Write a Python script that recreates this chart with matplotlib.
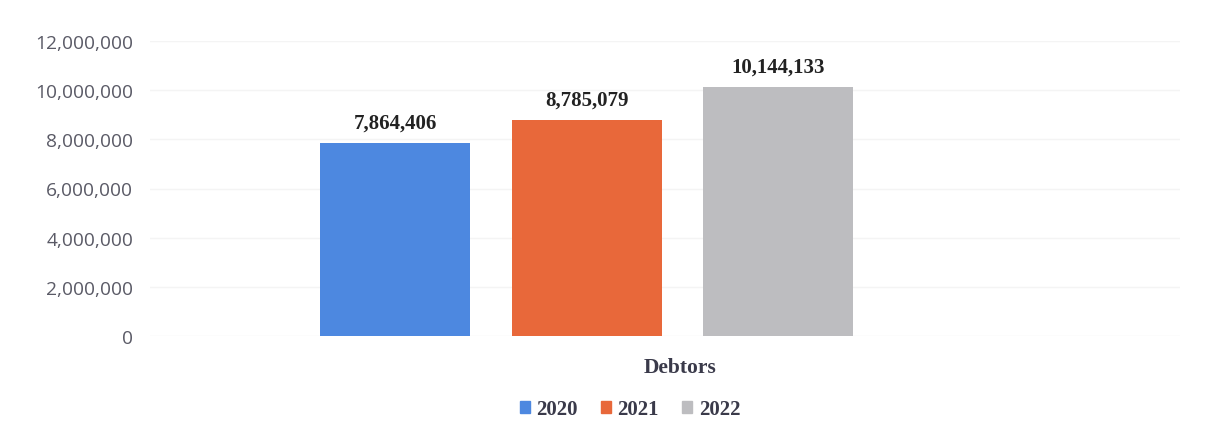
import matplotlib.pyplot as plt
from matplotlib.ticker import FuncFormatter
from matplotlib.patches import Patch

# data
years = ["2020", "2021", "2022"]
category = "Debtors"
values = [7864406, 8785079, 10144133]
colors = ["#4d88e0", "#e8683a", "#bdbdc0"]
yticks = [0, 2000000, 4000000, 6000000, 8000000, 10000000, 12000000]

W, H = 1223, 439
fig = plt.figure(figsize=(W / 100, H / 100), dpi=100)

# axes placement in pixels
left_px, right_px = 150, 1180
top_px, bot_px = 42, 337
ax = fig.add_axes([left_px / W, 1 - bot_px / H, (right_px - left_px) / W, (bot_px - top_px) / H])

step = 191.5  # pixel distance between bar centers
first_center = 395
bw = 150 / step
xs = [0, 1, 2]
ax.bar(xs, values, width=bw, color=colors, zorder=3)
ax.set_xlim(-(first_center - left_px) / step, (right_px - first_center) / step)
ax.set_ylim(0, 12000000)

for x, v in zip(xs, values):
    ax.text(x, v + 420000, f"{v:,}", ha="center", va="bottom",
            family="Liberation Serif", fontweight="bold", fontsize=15, color="#222222")

ax.set_yticks(yticks)
ax.yaxis.set_major_formatter(FuncFormatter(lambda v, p: f"{int(v):,}"))
ax.tick_params(axis="y", length=0, pad=12, labelsize=13.8, labelcolor="#5a5a66")
for lab in ax.get_yticklabels():
    lab.set_family("Open Sans")
ax.grid(axis="y", color="#f4f4f4", linewidth=1, zorder=0)

ax.set_xticks([1.49])
ax.set_xticklabels([category], family="Liberation Serif", fontweight="bold",
                   fontsize=15.5, color="#3a3a4a")
ax.tick_params(axis="x", length=0, pad=15)

for s in ax.spines.values():
    s.set_visible(False)

handles = [Patch(color=c) for c in colors]
fig.legend(handles, years, loc="center", bbox_to_anchor=(630 / W, 1 - 410 / H), ncol=3,
           frameon=False, handlelength=0.5, handleheight=0.5, handletextpad=0.3,
           columnspacing=1.1,
           prop={"family": "Liberation Serif", "weight": "bold", "size": 15})
for t in fig.legends[0].get_texts():
    t.set_color("#3a3a4a")

fig.savefig("out.png", dpi=100)
